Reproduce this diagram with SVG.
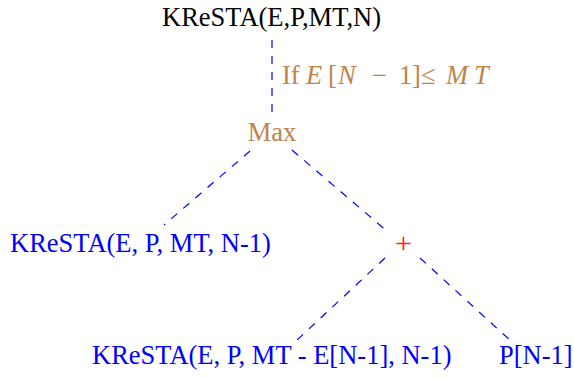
<svg xmlns="http://www.w3.org/2000/svg" width="574" height="378" viewBox="0 0 574 378">
<style>
text{font-family:"Liberation Serif","Times New Roman",serif;font-size:26.5px}
.blk{fill:#000}
.blu{fill:#0000ff}
.tan{fill:#c0834a}
.red{fill:#ff2020}
.it{font-style:italic}
.edge{stroke:#0000ff;stroke-width:1.2;stroke-dasharray:8 8;fill:none}
</style>
<rect width="574" height="378" fill="#fff"/>
<g id="connectors">
<line class="edge" x1="272" y1="40" x2="272" y2="114"/>
<line class="edge" x1="250" y1="151" x2="164" y2="225"/>
<line class="edge" x1="292" y1="150" x2="388" y2="232"/>
<line class="edge" x1="385" y1="258" x2="296" y2="341"/>
<line class="edge" x1="420" y1="258" x2="512" y2="342"/>
</g>
<g id="root"><text class="blk" x="271.5" y="26" text-anchor="middle">KReSTA(E,P,MT,N)</text></g>
<g id="cond"><text class="tan" y="84"><tspan x="282">If</tspan><tspan class="it" x="306">E</tspan><tspan x="328">[</tspan><tspan class="it" x="338">N</tspan><tspan x="372">−</tspan><tspan x="399">1</tspan><tspan x="412">]</tspan><tspan x="421">≤</tspan><tspan class="it" x="446">M</tspan><tspan class="it" x="474">T</tspan></text></g>
<g id="max"><text class="tan" x="272" y="141" text-anchor="middle">Max</text></g>
<g id="left"><text class="blu" x="10" y="252">KReSTA(E, P, MT, N-1)</text></g>
<g id="plus"><text class="red" x="403.5" y="253" text-anchor="middle" style="font-size:30px">+</text></g>
<g id="leftleaf"><text class="blu" x="92" y="364">KReSTA(E, P, MT - E[N-1], N-1)</text></g>
<g id="rightleaf"><text class="blu" x="499" y="364">P[N-1]</text></g>
</svg>
